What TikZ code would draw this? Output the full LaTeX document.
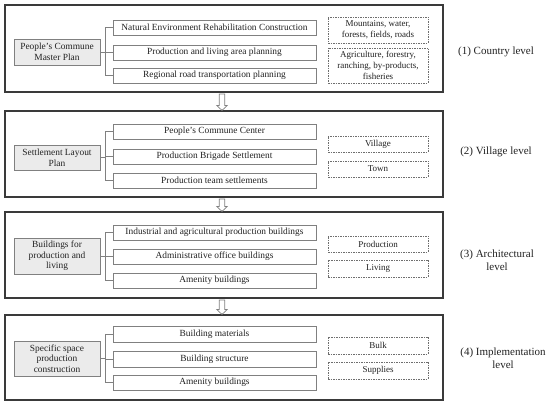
\documentclass[tikz,border=0pt]{standalone}
\usepackage{fontspec}
\setmainfont{Liberation Serif}
\usetikzlibrary{calc}
\definecolor{panelc}{HTML}{3A3A3A}
\definecolor{boxc}{HTML}{808080}
\definecolor{fillc}{HTML}{EBEBEB}
\definecolor{dashc}{HTML}{6E6E6E}
\definecolor{txtc}{HTML}{222222}
\tikzset{
  panel/.style={draw=panelc, line width=1.1pt, minimum width=438pt, inner sep=0pt},
  leftbox/.style={draw=boxc, fill=fillc, line width=0.6pt, minimum width=86pt, align=center, inner sep=1pt, font=\fontsize{9.4}{10.7}\selectfont, text=txtc},
  midbox/.style={draw=boxc, line width=0.6pt, minimum width=203pt, minimum height=15pt, inner sep=1pt, font=\fontsize{9.4}{10.7}\selectfont, text=txtc},
  dashbox/.style={draw=dashc, dashed, dash pattern=on 1.5pt off 1pt, line width=0.6pt, minimum width=100pt, align=center, inner sep=1pt, font=\fontsize{9}{10.7}\selectfont, text=txtc},
  levellabel/.style={align=center, font=\fontsize{11}{12.5}\selectfont, text=txtc},
  conn/.style={draw=boxc, line width=0.6pt},
  blockarrow/.style={draw=boxc, fill=white, line width=0.7pt, line join=miter}
}
\begin{document}
\begin{tikzpicture}[x=1pt,y=-1pt]
\useasboundingbox (0,0) rectangle (550,406);
\fill[white] (0,0) rectangle (550,406);

% panels
\node[panel, minimum height=87pt] (P1) at (224,48.5) {};
\node[panel, minimum height=86pt] (P2) at (224,154) {};
\node[panel, minimum height=86pt] (P3) at (224,255) {};
\node[panel, minimum height=85pt] (P4) at (224,357.5) {};

% panel 1
\node[leftbox, minimum height=26pt] (L1) at (57,52) {People's Commune\\Master Plan};
\node[midbox] (M11) at (214.5,27.5) {Natural Environment Rehabilitation Construction};
\node[midbox] (M12) at (214.5,52.5) {Production and living area planning};
\node[midbox] (M13) at (214.5,75.5) {Regional road transportation planning};
\node[dashbox, minimum height=26pt] (D11) at (378,30) {Mountains, water,\\forests, fields, roads};
\node[dashbox, minimum height=35pt] (D12) at (378,65.5) {Agriculture, forestry,\\ranching, by-products,\\fisheries};
\node[levellabel] (T1) at (496,52) {(1) Country level};

% panel 2
\node[leftbox, minimum height=25pt] (L2) at (57,157.5) {Settlement Layout\\Plan};
\node[midbox] (M21) at (214.5,131.5) {People's Commune Center};
\node[midbox] (M22) at (214.5,156.5) {Production Brigade Settlement};
\node[midbox] (M23) at (214.5,180.5) {Production team settlements};
\node[dashbox, minimum height=16pt] (D21) at (378,144) {Village};
\node[dashbox, minimum height=16pt] (D22) at (378,169) {Town};
\node[levellabel] (T2) at (496,152) {(2) Village level};

% panel 3
\node[leftbox, minimum height=36pt] (L3) at (57,256) {Buildings for\\production and\\living};
\node[midbox] (M31) at (214.5,232.5) {Industrial and agricultural production buildings};
\node[midbox] (M32) at (214.5,256.5) {Administrative office buildings};
\node[midbox] (M33) at (214.5,280.5) {Amenity buildings};
\node[dashbox, minimum height=16pt] (D31) at (378,244) {Production};
\node[dashbox, minimum height=17pt] (D32) at (378,268.5) {Living};
\node[levellabel] (T3) at (497,260) {(3) Architectural\\level};

% panel 4
\node[leftbox, minimum height=35pt] (L4) at (57,358.5) {Specific space\\production\\construction};
\node[midbox, minimum height=16pt] (M41) at (214.5,334) {Building materials};
\node[midbox, minimum height=16pt] (M42) at (214.5,359) {Building structure};
\node[midbox] (M43) at (214.5,382.5) {Amenity buildings};
\node[dashbox, minimum height=17pt] (D41) at (378,345.5) {Bulk};
\node[dashbox, minimum height=17pt] (D42) at (378,370.5) {Supplies};
\node[levellabel] (T4) at (503,358) {(4) Implementation\\level};

% connectors
\foreach \i in {1,2,3,4}{
  \draw[conn] (L\i.east) -- ++(5,0) coordinate (J\i);
  \draw[conn] (J\i |- M\i1.west) -- (J\i |- M\i3.west);
  \draw[conn] (J\i |- M\i1.west) -- (M\i1.west);
  \draw[conn] (J\i |- M\i2.west) -- (M\i2.west);
  \draw[conn] (J\i |- M\i3.west) -- (M\i3.west);
}

% block arrows between panels
\foreach \a/\b in {P1/P2,P2/P3,P3/P4}{
  \draw[blockarrow]
    let \p1=($(\a.south)+(-2,1.5)$), \p2=($(\b.north)+(-2,0)$) in
    (\x1-2.7,\y1) -- (\x1-2.7,\y2+5) -- (\x1-5.2,\y2+5) -- (\x1,\y2) --
    (\x1+5.2,\y2+5) -- (\x1+2.7,\y2+5) -- (\x1+2.7,\y1) -- cycle;
}
\end{tikzpicture}
\end{document}
